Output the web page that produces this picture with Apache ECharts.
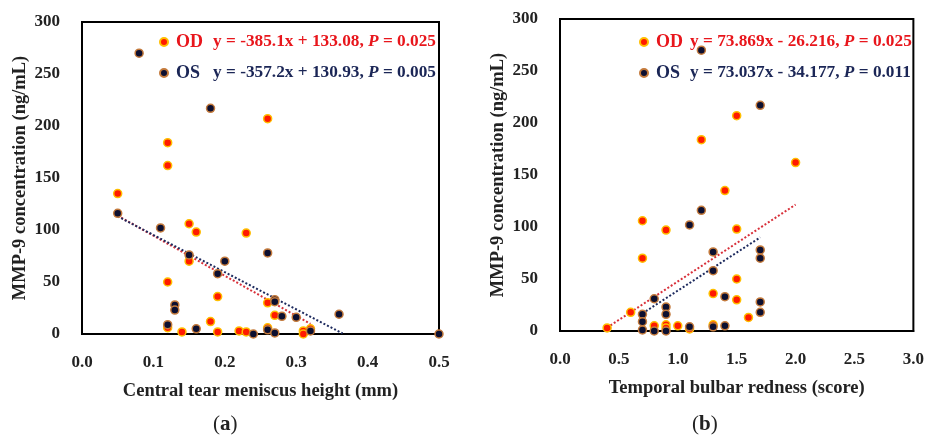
<!DOCTYPE html>
<html>
<head>
<meta charset="utf-8">
<script src="https://cdn.jsdelivr.net/npm/echarts@6/dist/echarts.min.js"></script>
<style>
html,body{margin:0;padding:0;background:#fff;}
#c{width:927px;height:435px;}
</style>
</head>
<body>
<div id="c"></div>
<script>
// ---- data ----
const xTicksA = [0, 0.1, 0.2, 0.3, 0.4, 0.5];
const xTicksB = [0, 0.5, 1.0, 1.5, 2.0, 2.5, 3.0];
const yTicks = [0, 50, 100, 150, 200, 250, 300];

const odA = [[0.05,135],[0.12,184],[0.12,162],[0.12,50],[0.12,6],[0.14,2],[0.15,106],[0.15,70],[0.16,98],[0.18,12],[0.19,36],[0.19,2],[0.22,3],[0.23,97],[0.23,2],[0.26,207],[0.26,30],[0.26,6],[0.27,18],[0.31,3],[0.31,0],[0.32,5]];
const osA = [[0.05,116],[0.08,270],[0.11,102],[0.12,9],[0.13,28],[0.13,23],[0.15,76],[0.16,5],[0.18,217],[0.19,58],[0.20,70],[0.24,0],[0.26,78],[0.26,4],[0.27,33],[0.27,31],[0.27,1],[0.28,17],[0.30,16],[0.32,3],[0.36,19],[0.50,0]];
const odB = [[0.4,3],[0.6,18],[0.7,106],[0.7,70],[0.8,5],[0.9,97],[0.9,6],[0.9,3],[1.0,5],[1.1,2],[1.2,184],[1.3,36],[1.3,6],[1.4,135],[1.5,207],[1.5,98],[1.5,50],[1.5,30],[1.6,13],[2.0,162]];
const osB = [[0.7,16],[0.7,9],[0.7,1],[0.8,31],[0.8,0],[0.9,23],[0.9,16],[0.9,0],[1.1,102],[1.1,4],[1.2,270],[1.2,116],[1.3,76],[1.3,58],[1.3,4],[1.4,33],[1.4,5],[1.7,217],[1.7,78],[1.7,70],[1.7,28],[1.7,18]];

const odTrendA = [[0.05,113.8],[0.32,9.8]];
const osTrendA = [[0.05,113.1],[0.365,0.5]];
const odTrendB = [[0.4,3.3],[2.0,121.5]];
const osTrendB = [[0.7,16.9],[1.7,90.0]];

const eqA = {OD:['y = -385.1x + 133.08, ', ' = 0.025'], OS:['y = -357.2x + 130.93, ', ' = 0.005']};
const eqB = {OD:['y = 73.869x - 26.216, ', ' = 0.025'], OS:['y = 73.037x - 34.177, ', ' = 0.011']};

const xTitleA = 'Central tear meniscus height (mm)';
const xTitleB = 'Temporal bulbar redness (score)';
const yTitle = 'MMP-9 concentration (ng/mL)';

// ---- style ----
const FONT = 'Liberation Serif';
const RED = '#e8161c';
const NAVY = '#1b2656';
const odStyle = {color:'#ff1a00', borderColor:'#ffbf00', borderWidth:1.5, opacity:1};
const osStyle = {color:'#0c0f30', borderColor:'#c47a3c', borderWidth:1.5, opacity:1};

const chart = echarts.init(document.getElementById('c'), null, {renderer:'canvas'});

function legendFormatter(eq){
  return function(name){
    const k = name === 'OD' ? 'od' : 'os';
    return '{' + k + 'n|' + name + '}{' + k + '|' + eq[name][0] + '}{' + k + 'i|P}{' + k + '|' + eq[name][1] + '}';
  };
}
const LH = 20, EF = 17.3;
function rich(nameW){
  return {
    odn:{color:RED, fontFamily:FONT, fontWeight:'bold', fontSize:18, width:nameW, padding:[0,0,0,3], lineHeight:LH},
    od:{color:RED, fontFamily:FONT, fontWeight:'bold', fontSize:EF, lineHeight:LH},
    odi:{color:RED, fontFamily:FONT, fontWeight:'bold', fontStyle:'italic', fontSize:EF, lineHeight:LH},
    osn:{color:NAVY, fontFamily:FONT, fontWeight:'bold', fontSize:18, width:nameW, padding:[0,0,0,3], lineHeight:LH},
    os:{color:NAVY, fontFamily:FONT, fontWeight:'bold', fontSize:EF, lineHeight:LH},
    osi:{color:NAVY, fontFamily:FONT, fontWeight:'bold', fontStyle:'italic', fontSize:EF, lineHeight:LH}
  };
}

function xAxis(idx, ticks, title){
  return {
    type:'value', gridIndex:idx, min:ticks[0], max:ticks[ticks.length-1], interval:ticks[1]-ticks[0],
    axisLine:{show:true, lineStyle:{color:'#000', width:2}},
    axisTick:{show:false}, splitLine:{show:false},
    axisLabel:{margin:20, color:'#222', fontFamily:FONT, fontWeight:'bold', fontSize:17, formatter:v=>v.toFixed(1)},
    name:title, nameLocation:'middle', nameGap:48,
    nameTextStyle:{color:'#222', fontFamily:FONT, fontWeight:'bold', fontSize:18.5}
  };
}
function yAxis(idx){
  return {
    type:'value', gridIndex:idx, min:yTicks[0], max:yTicks[yTicks.length-1], interval:yTicks[1]-yTicks[0],
    axisLine:{show:true, lineStyle:{color:'#000', width:2}},
    axisTick:{show:false}, splitLine:{show:false},
    axisLabel:{margin:22, color:'#222', fontFamily:FONT, fontWeight:'bold', fontSize:17},
    name:yTitle, nameLocation:'middle', nameGap:52,
    nameTextStyle:{color:'#222', fontFamily:FONT, fontWeight:'bold', fontSize:18.5}
  };
}
function trend(name, idx, data, color){
  return {name:name, type:'line', xAxisIndex:idx, yAxisIndex:idx, data:data, showSymbol:false, silent:true,
    lineStyle:{color:color, width:2, type:[2,2]}, z:1, animation:false};
}
function scatter(name, idx, data, style){
  return {name:name, type:'scatter', xAxisIndex:idx, yAxisIndex:idx, data:data, symbol:'circle', symbolSize:8,
    itemStyle:style, z:3, animation:false};
}

const option = {
  animation:false,
  backgroundColor:'#fff',
  grid:[
    {left:82, top:22, width:357, height:312, show:true, borderColor:'#000', borderWidth:2, backgroundColor:'transparent'},
    {left:560, top:19, width:357, height:312, show:true, borderColor:'#000', borderWidth:2, backgroundColor:'transparent'}
  ],
  xAxis:[xAxis(0, xTicksA, xTitleA), xAxis(1, xTicksB, xTitleB)],
  yAxis:[yAxis(0), yAxis(1)],
  legend:[
    {orient:'vertical', left:159, top:33, padding:0, itemGap:13, itemWidth:8, itemHeight:8, icon:'circle',
     data:['OD','OS'], formatter:legendFormatter(eqA), textStyle:{rich:rich(37)}, selectedMode:false},
    {orient:'vertical', left:639, top:33, padding:0, itemGap:13, itemWidth:8, itemHeight:8, icon:'circle',
     data:['OD','OS'], formatter:legendFormatter(eqB), textStyle:{rich:rich(34)}, selectedMode:false}
  ],
  graphic:[
    {type:'text', left:213, top:414, style:{text:'({b|a})', fontFamily:FONT, fontSize:21, fill:'#222', rich:{b:{fontFamily:FONT, fontSize:21, fontWeight:'bold', fill:'#222'}}}},
    {type:'text', left:692, top:414, style:{text:'({b|b})', fontFamily:FONT, fontSize:21, fill:'#222', rich:{b:{fontFamily:FONT, fontSize:21, fontWeight:'bold', fill:'#222'}}}}
  ],
  series:[
    trend('OD trend A', 0, odTrendA, '#d8303a'),
    trend('OS trend A', 0, osTrendA, '#1d2a5e'),
    trend('OD trend B', 1, odTrendB, '#d8303a'),
    trend('OS trend B', 1, osTrendB, '#1d2a5e'),
    scatter('OD', 0, odA, odStyle),
    scatter('OS', 0, osA, osStyle),
    scatter('OD', 1, odB, odStyle),
    scatter('OS', 1, osB, osStyle)
  ]
};
chart.setOption(option);
</script>
</body>
</html>
